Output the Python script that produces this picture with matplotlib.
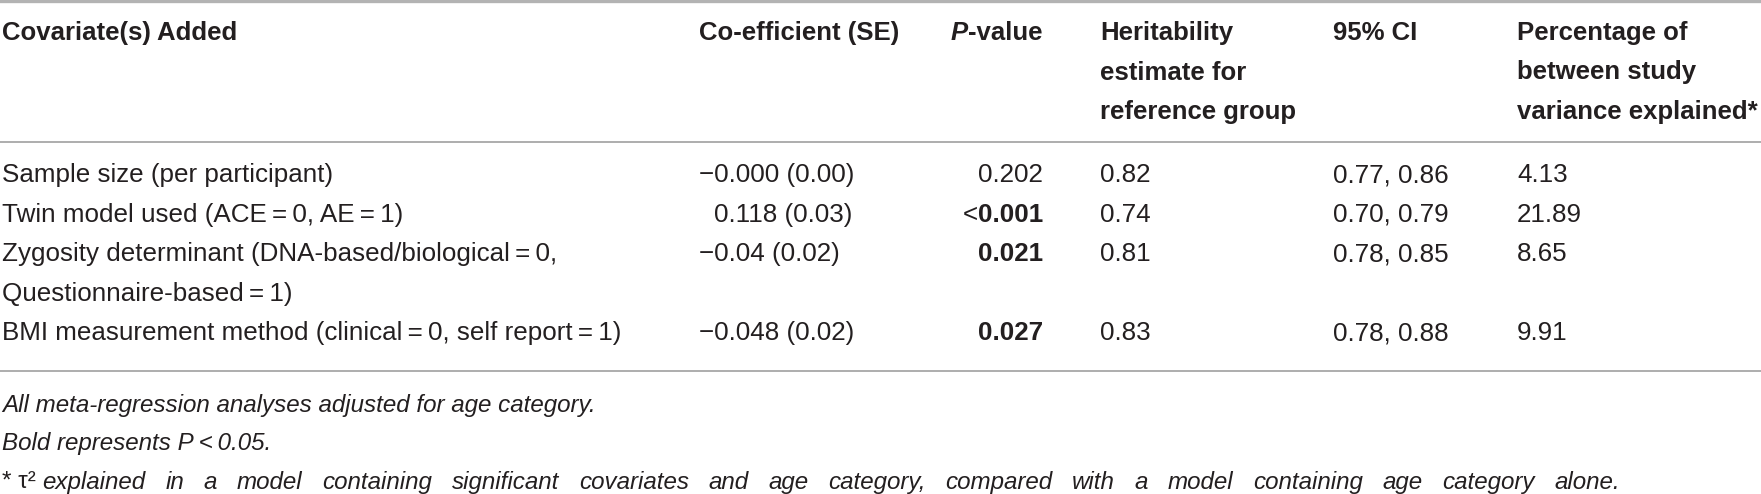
import matplotlib
matplotlib.use("Agg")
import matplotlib.pyplot as plt

# table content
headers = [["Covariate(s) Added"], ["Co-efficient (SE)"], ["P-value"],
           ["Heritability", "estimate for", "reference group"], ["95% CI"],
           ["Percentage of", "between study", "variance explained*"]]
covariates = [["Sample size (per participant)"],
              ["Twin model used (ACE\u2009=\u20090, AE\u2009=\u20091)"],
              ["Zygosity determinant (DNA-based/biological\u2009=\u20090,",
               "Questionnaire-based\u2009=\u20091)"],
              ["BMI measurement method (clinical\u2009=\u20090, self report\u2009=\u20091)"]]
coef = ["\u22120.000 (0.00)", "0.118 (0.03)", "\u22120.04 (0.02)", "\u22120.048 (0.02)"]
p_prefix = ["", "<", "", ""]
p_values = ["0.202", "0.001", "0.021", "0.027"]
p_bold = [False, True, True, True]
herit = ["0.82", "0.74", "0.81", "0.83"]
ci95 = ["0.77, 0.86", "0.70, 0.79", "0.78, 0.85", "0.78, 0.88"]
pct = ["4.13", "21.89", "8.65", "9.91"]
notes = ["All meta-regression analyses adjusted for age category.",
         "Bold represents P\u2009<\u20090.05."]
last_note = "explained in a model containing significant covariates and age category, compared with a model containing age category alone."

W, H = 1761, 494
FONT = ["Liberation Sans Narrow", "Liberation Sans", "DejaVu Sans"]
FS = 18.7       # body
FS_HEAD = 18.5  # header
FS_NOTE = 17.4  # footnotes
INK = "#231f20"
plt.rcParams["font.family"] = FONT

fig = plt.figure(figsize=(W / 100, H / 100), dpi=100)
ax = fig.add_axes([0, 0, 1, 1])
ax.set_xlim(0, W)
ax.set_ylim(H, 0)
ax.axis("off")
renderer = fig.canvas.get_renderer()

col_x = [2, 699, 1043, 1100, 1333, 1517]
pitch = 39.5


def txt(x, y, s, **kw):
    kw.setdefault("fontsize", FS)
    kw.setdefault("color", INK)
    kw.setdefault("va", "center")
    return ax.text(x, y, s, **kw)


def width_px(t):
    return t.get_window_extent(renderer=renderer).width


# rules
ax.axhline(1.5, color="#b3b3b3", lw=2.4)
ax.axhline(142, color="#a0a0a0", lw=1.2)
ax.axhline(371, color="#a0a0a0", lw=1.2)

# header
for c, lines in enumerate(headers):
    for k, s in enumerate(lines):
        y = 33 + k * pitch
        if c == 2:
            p = txt(951, y, "P", fontweight="bold", fontstyle="italic", fontsize=FS_HEAD)
            txt(951 + width_px(p), y, "-value", fontweight="bold", fontsize=FS_HEAD)
        else:
            txt(col_x[c], y, s, fontweight="bold", fontsize=FS_HEAD)

# width of a minus sign, used to line up the positive coefficient
m = txt(100, 100, "\u2212")
minus_w = width_px(m)
m.remove()

# body
row_y = 175
for i in range(len(covariates)):
    for k, s in enumerate(covariates[i]):
        txt(col_x[0], row_y + k * pitch, s)
    cx = col_x[1]
    if not coef[i].startswith("\u2212"):
        cx += minus_w
    txt(cx, row_y, coef[i])
    pv = txt(col_x[2], row_y, p_values[i], ha="right",
             fontweight="bold" if p_bold[i] else "normal")
    if p_prefix[i]:
        txt(col_x[2] - width_px(pv), row_y, p_prefix[i], ha="right")
    txt(col_x[3], row_y, herit[i])
    txt(col_x[4], row_y, ci95[i])
    txt(col_x[5], row_y, pct[i])
    row_y += pitch * len(covariates[i])

# footnotes
for k, s in enumerate(notes):
    txt(2, 405 + k * 38.5, s, fontstyle="italic", fontsize=FS_NOTE)

star = txt(2, 482, "* \u03c4\u00b2 ", fontsize=FS_NOTE)
x0 = 2 + width_px(star)
words = last_note.split(" ")
arts = [txt(x0, 482, w, fontstyle="italic", fontsize=FS_NOTE) for w in words]
widths = [width_px(a) for a in arts]
gap = (1620 - x0 - sum(widths)) / (len(words) - 1)
x = x0
for a, w in zip(arts, widths):
    a.set_x(x)
    x += w + gap

fig.savefig("out.png", dpi=100)
